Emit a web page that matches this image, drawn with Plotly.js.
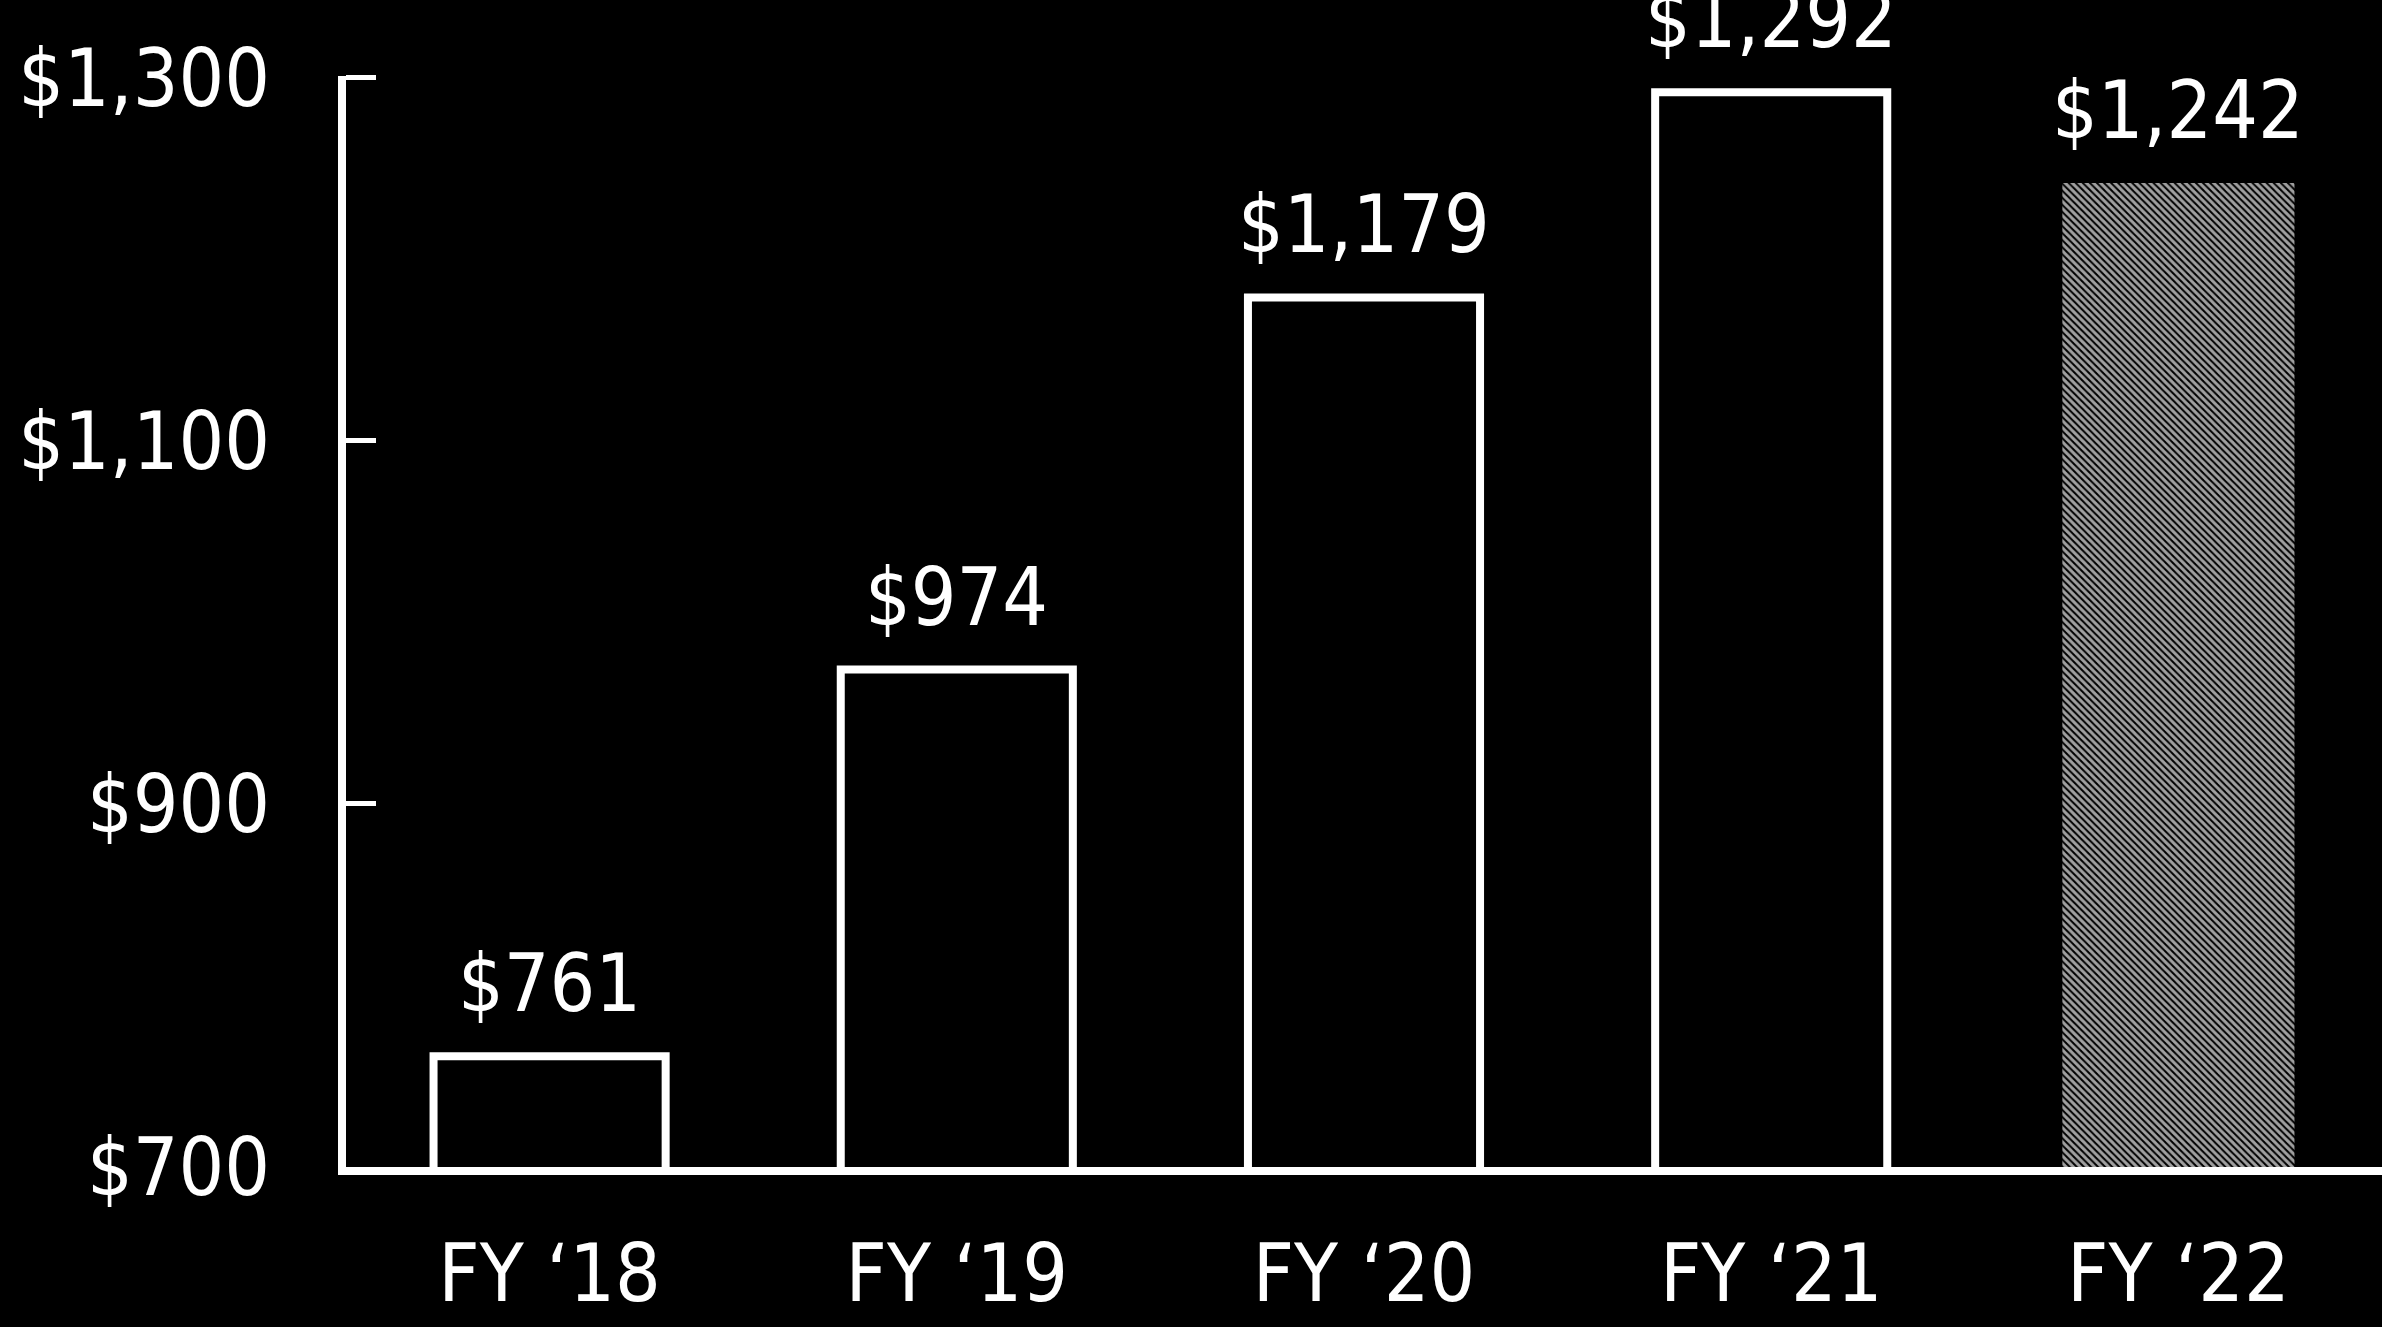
<!DOCTYPE html>
<html>
<head>
<meta charset="utf-8">
<script src="https://cdn.plot.ly/plotly-3.0.1.min.js"></script>
<style>
  html, body { margin: 0; padding: 0; background: #000; }
  #chart { width: 2382px; height: 1327px; }
</style>
</head>
<body>
<div id="chart"></div>
<script>
const categories = ["FY \u201818", "FY \u201819", "FY \u201820", "FY \u201821", "FY \u201822"];
const values = [761, 974, 1179, 1292, 1242];
const tickValues = [700, 900, 1100, 1300];
const tickLabels = ["$700", "$900", "$1,100", "$1,300"];

const FONT = '"DejaVu Sans Condensed", "Liberation Sans", sans-serif';
const FSIZE = 80;
const fmt = v => "$" + v.toLocaleString("en-US");

const lastIdx = values.length - 1;
const trace = {
  type: "bar",
  x: categories,
  y: values,
  marker: {
    color: values.map((v, i) => i === lastIdx ? "#a0a0a0" : "#000000"),
    line: {
      color: "#ffffff",
      width: values.map((v, i) => i === lastIdx ? 0 : 8)
    },
    pattern: {
      shape: values.map((v, i) => i === lastIdx ? "\\" : ""),
      fgcolor: "#ffffff",
      bgcolor: "#808080",
      size: 5,
      solidity: 0.6,
      fillmode: "replace"
    }
  },
  hoverinfo: "none",
  cliponaxis: false
};

const annotations = categories.map((c, i) => ({
  x: c,
  y: values[i],
  xref: "x",
  yref: "y",
  text: fmt(values[i]),
  showarrow: false,
  yanchor: "bottom",
  yshift: 24,
  font: { family: FONT, size: FSIZE, color: "#ffffff" }
}));

const layout = {
  width: 2382,
  height: 1327,
  paper_bgcolor: "#000000",
  plot_bgcolor: "#000000",
  margin: { l: 346, r: 0, t: 76, b: 160 },
  bargap: 0.43,
  showlegend: false,
  font: { family: FONT, size: FSIZE, color: "#ffffff" },
  xaxis: {
    type: "category",
    range: [-0.5, 4.5],
    showline: true,
    linecolor: "#ffffff",
    linewidth: 8,
    ticks: "",
    showgrid: false,
    zeroline: false,
    ticklabelstandoff: 30,
    tickfont: { family: FONT, size: FSIZE, color: "#ffffff" }
  },
  yaxis: {
    range: [700, 1301],
    showline: true,
    linecolor: "#ffffff",
    linewidth: 8,
    ticks: "inside",
    ticklen: 30,
    tickwidth: 5,
    tickcolor: "#ffffff",
    tickvals: tickValues,
    ticktext: tickLabels,
    showgrid: false,
    zeroline: false,
    ticklabelstandoff: 52,
    tickfont: { family: FONT, size: FSIZE, color: "#ffffff" }
  },
  annotations: annotations
};

Plotly.newPlot("chart", [trace], layout, { displayModeBar: false, staticPlot: true });
</script>
</body>
</html>
